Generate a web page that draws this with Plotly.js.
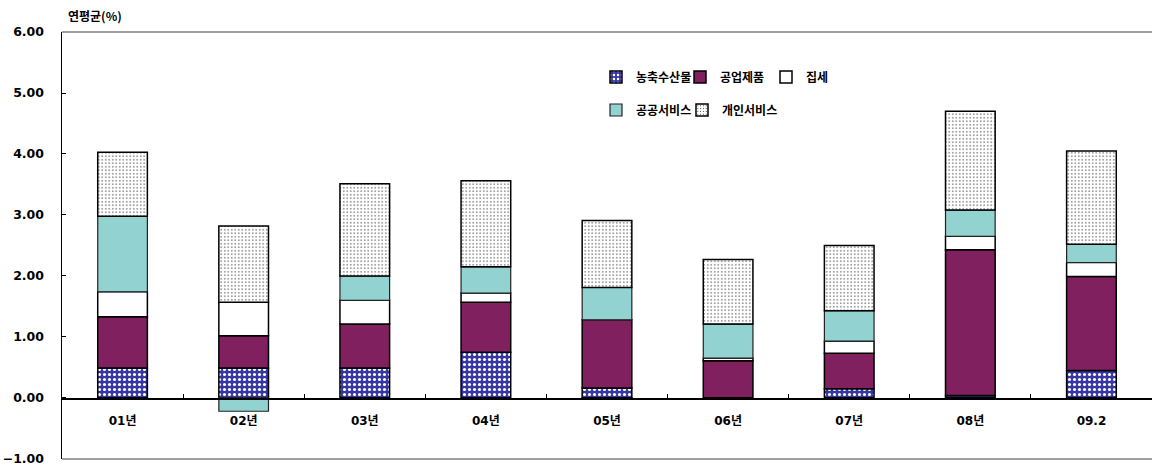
<!DOCTYPE html>
<html>
<head>
<meta charset="utf-8">
<script src="https://cdn.plot.ly/plotly-3.0.1.min.js"></script>
<style>html,body{margin:0;padding:0;background:#fff;}#chart{width:1152px;height:465px;}</style>
</head>
<body>
<div id="chart"></div>
<script>
// ---- data ----
const categories = ["01년", "02년", "03년", "04년", "05년", "06년", "07년", "08년", "09.2"];
const seriesNames = ["농축수산물", "공업제품", "집세", "공공서비스", "개인서비스"];
const agri      = [0.49, 0.49, 0.49, 0.75, 0.16, 0.00, 0.15, 0.04, 0.45];
const industry  = [0.84, 0.53, 0.72, 0.82, 1.12, 0.61, 0.58, 2.39, 1.54];
const rent      = [0.41, 0.55, 0.39, 0.15, -0.02, 0.04, 0.20, 0.22, 0.23];
const publicSvc = [1.24, -0.22, 0.40, 0.43, 0.53, 0.56, 0.50, 0.43, 0.30];
const personal  = [1.05, 1.25, 1.51, 1.41, 1.10, 1.06, 1.07, 1.62, 1.53];
const yTicks = [-1, 0, 1, 2, 3, 4, 5, 6];

const FONT = "'DejaVu Sans', 'Noto Sans CJK KR', sans-serif";
const KFONT = "'Noto Sans CJK KR', 'DejaVu Sans', sans-serif";
const outline = {color: "#000", width: 1.5};

function bar(name, y, marker, legendId) {
  return {type: "bar", name: name, x: categories, y: y, marker: marker,
          legend: legendId, hoverinfo: "skip"};
}

const traces = [
  bar(seriesNames[0], agri, {color: "#3636a6", line: outline,
      pattern: {shape: ".", fgcolor: "#ffffff", bgcolor: "#3636a6", size: 5, solidity: 0.3}}, "legend"),
  bar(seriesNames[1], industry, {color: "#80205e", line: outline}, "legend2"),
  bar(seriesNames[2], rent, {color: "#ffffff", line: outline}, "legend3"),
  bar(seriesNames[3], publicSvc, {color: "#92d2d0", line: {color: "#222", width: 1.2}}, "legend4"),
  bar(seriesNames[4], personal, {color: "#ffffff", line: outline,
      pattern: {shape: ".", fgcolor: "#222", bgcolor: "#ffffff", size: 3.5, solidity: 0.12}}, "legend5")
];

const W = 1152, L = 62, R = 0;
const pw = W - L - R;
function px2paper(px) { return (px - L) / pw; }
function leg(px, py) {
  return {x: px2paper(px), y: 1 - (py - 32) / 427, xanchor: "left", yanchor: "middle",
          orientation: "h", bgcolor: "rgba(0,0,0,0)", borderwidth: 0,
          font: {family: KFONT, size: 12, color: "#000", weight: "bold"},
          itemwidth: 30, tracegroupgap: 0, traceorder: "normal"};
}

const layout = {
  width: 1152, height: 465,
  margin: {l: L, r: R, t: 32, b: 6, pad: 0},
  paper_bgcolor: "#fff", plot_bgcolor: "#fff",
  barmode: "relative", bargap: 0.59,
  showlegend: true,
  legend:  leg(596, 77),
  legend2: leg(680, 77),
  legend3: leg(766, 77),
  legend4: leg(596, 110),
  legend5: leg(682, 110),
  xaxis: {
    type: "category", range: [-0.5, 8.5], anchor: "free", position: 1 / 7,
    showline: true, linecolor: "#000", linewidth: 1.5,
    ticks: "inside", ticklen: 4, tickcolor: "#000", tickwidth: 1, tickson: "boundaries",
    showgrid: false, zeroline: false, ticklabelstandoff: 11,
    tickfont: {family: FONT, size: 12, color: "#000", weight: "bold"}
  },
  yaxis: {
    range: [-1.003, 6.001], tickvals: yTicks, tickformat: ".2f",
    showline: true, linecolor: "#000", linewidth: 1.5,
    ticks: "inside", ticklen: 4, tickcolor: "#000", ticklabeloverflow: "allow",
    showgrid: false, zeroline: false, ticklabelstandoff: 14,
    tickfont: {family: FONT, size: 12.5, color: "#000", weight: "bold"}
  },
  shapes: [
    {type: "line", xref: "paper", yref: "paper", x0: 0, x1: 1, y0: 1, y1: 1, line: {color: "#808080", width: 1.5}},
    {type: "line", xref: "paper", yref: "paper", x0: 0, x1: 1, y0: 0, y1: 0, line: {color: "#808080", width: 1.5}}
  ],
  annotations: [
    {text: "연평균(%)", xref: "paper", yref: "paper", x: px2paper(66), y: 1 + 16 / 427,
     xanchor: "left", yanchor: "middle", showarrow: false,
     font: {family: KFONT, size: 12, color: "#000", weight: "bold"}}
  ]
};

Plotly.newPlot("chart", traces, layout, {displayModeBar: false, staticPlot: true});
</script>
</body>
</html>
